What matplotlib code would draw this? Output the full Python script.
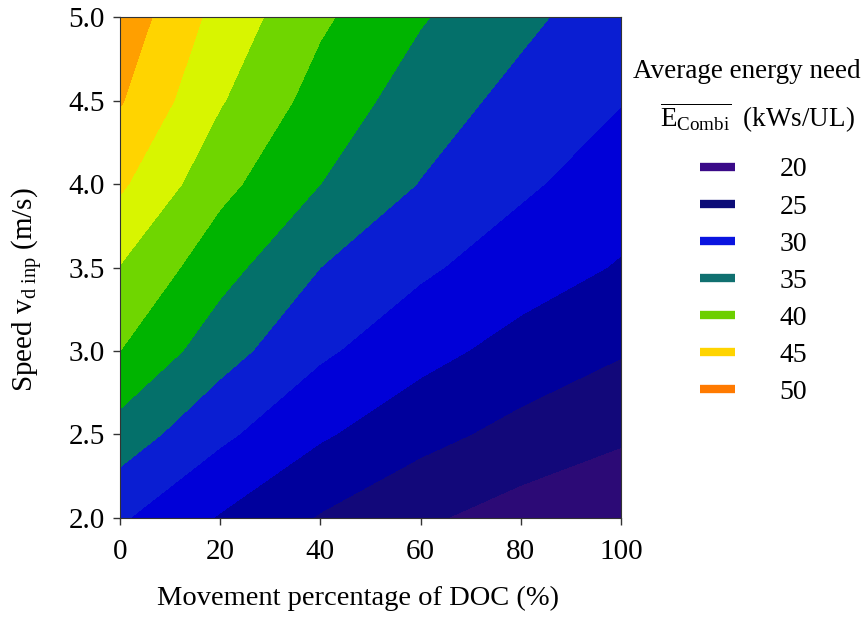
import numpy as np
import matplotlib
matplotlib.use("Agg")
import matplotlib.pyplot as plt
from matplotlib.lines import Line2D

plt.rcParams['font.family'] = 'Liberation Serif'
plt.rcParams['mathtext.fontset'] = 'custom'
plt.rcParams['mathtext.rm'] = 'Liberation Serif'
plt.rcParams['mathtext.it'] = 'Liberation Serif:italic'

# grid of the surface
doc_pct = [0, 20, 40, 60, 80, 100]
speed = [2.0, 2.5, 3.0, 3.5, 4.0, 4.5, 5.0]
# energy[row=speed][col=doc_pct], kWs/UL
energy = [
    [30.3, 27.3, 24.8, 22.9, 21.4, 20.3],
    [33.9, 30.5, 27.8, 25.8, 24.2, 22.9],
    [37.5, 33.5, 30.4, 28.3, 26.6, 25.2],
    [39.9, 35.9, 32.5, 30.4, 28.7, 27.3],
    [42.9, 38.2, 35.0, 32.4, 30.4, 28.7],
    [45.2, 40.2, 36.5, 33.8, 31.7, 30.1],
    [46.6, 41.6, 37.9, 35.2, 33.1, 31.0],
]

levels = [20, 22.5, 25, 27.5, 30, 32.5, 35, 37.5, 40, 42.5, 45, 47.5]
band_colors = ['#2c0a76', '#12087a', '#00009c', '#0000d8', '#0a1ed2', '#04706a',
               '#00b400', '#6fd600', '#d8f500', '#ffd400', '#ff9f00']

legend_values = [20, 25, 30, 35, 40, 45, 50]
legend_colors = ['#3a0a88', '#0c0c78', '#0a14e0', '#107070', '#6ccf00', '#ffd400', '#ff7a00']

fig = plt.figure(figsize=(8.64, 6.19), dpi=100)
ax = fig.add_axes([0.1389, 0.1632, 0.5799, 0.8093])

X, Y = np.meshgrid(doc_pct, speed)
ax.contourf(X, Y, np.array(energy), levels=levels, colors=band_colors)

ax.set_xlim(0, 100)
ax.set_ylim(2.0, 5.0)
ax.set_xticks([0, 20, 40, 60, 80, 100])
ax.set_yticks([2.0, 2.5, 3.0, 3.5, 4.0, 4.5, 5.0])
ax.set_yticklabels(['%.1f' % v for v in [2.0, 2.5, 3.0, 3.5, 4.0, 4.5, 5.0]])
ax.tick_params(direction='out', length=5, width=1, labelsize=21, colors='#333333',
               labelcolor='black')
ax.tick_params(axis='x', pad=10)
ax.tick_params(axis='y', pad=6)
for sp in ax.spines.values():
    sp.set_color('#333333')

ax.set_xlabel('Movement percentage of DOC (%)', fontsize=20.5)
ax.xaxis.set_label_coords(0.475, -0.135)
ax.set_ylabel(r'Speed v$_\mathregular{d\ inp}$ (m/s)', fontsize=21)
ax.yaxis.set_label_coords(-0.15, 0.455)

# legend title
fig.text(747 / 864, 1 - 72 / 619, 'Average energy need', fontsize=19.5,
         ha='center', va='center')
fig.text(757 / 864, 1 - 118 / 619,
         r'$\overline{\mathregular{E_{Combi}}}$  (kWs/UL)', fontsize=19.5,
         ha='center', va='center')

handles = [Line2D([0], [0], color=c, lw=6, solid_capstyle='butt') for c in legend_colors]
leg = fig.legend(handles, [str(v) for v in legend_values],
                 loc='upper left', bbox_to_anchor=(700 / 864, 1 - 157 / 619), frameon=False,
                 fontsize=20, handlelength=1.26, handletextpad=1.6,
                 labelspacing=0.42, borderpad=0, borderaxespad=0)

fig.savefig('out.png', dpi=100)
